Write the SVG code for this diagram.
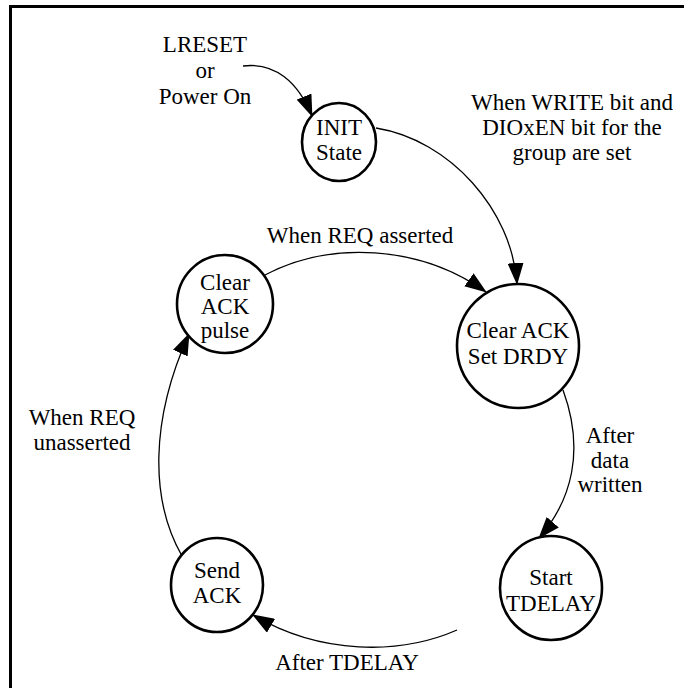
<svg xmlns="http://www.w3.org/2000/svg" width="686" height="688" viewBox="0 0 686 688" font-family="Liberation Serif, Times New Roman, serif">
<defs>
<marker id="ah" markerWidth="22" markerHeight="16" refX="21" refY="8" orient="auto" markerUnits="userSpaceOnUse">
<path d="M0,0 L22,8 L0,16 Z" fill="#000"/>
</marker>
<style>
.st{fill:#fff;stroke:#000;stroke-width:2.6}
text{font-size:23px;fill:#000;text-anchor:middle}
.c{fill:none;stroke:#000;stroke-width:1.3;marker-end:url(#ah)}
</style>
</defs>
<rect width="686" height="688" fill="#fff"/>
<path d="M10.5 688 V6.5 H684" fill="none" stroke="#000" stroke-width="3"/>
<g id="connectors">
<path class="c" d="M243 66 C275 62 298 82 312 116"/>
<path class="c" d="M376 128 C450 140 512 210 517 284"/>
<path class="c" d="M263 276 C330 240 420 245 486 292"/>
<path class="c" d="M563 390 C585 450 572 500 539 538"/>
<path class="c" d="M457 630 C400 655 320 655 253 615"/>
<path class="c" d="M182 556 C150 500 150 420 189 334"/>
</g>
<g id="labels" font-family="Liberation Serif, serif">
<text x="205" y="52">LRESET</text>
<text x="205" y="78">or</text>
<text x="205" y="104">Power On</text>
<text x="572" y="110">When WRITE bit and</text>
<text x="572" y="135">DIOxEN bit for the</text>
<text x="572" y="160">group are set</text>
<text x="360" y="243">When REQ asserted</text>
<text x="610" y="443">After</text>
<text x="610" y="468">data</text>
<text x="610" y="492">written</text>
<text x="347" y="670">After TDELAY</text>
<text x="82" y="425">When REQ</text>
<text x="82" y="450">unasserted</text>
</g>
<g id="init">
<ellipse class="st" cx="339" cy="142" rx="37" ry="39"/>
<text x="339" y="135">INIT</text>
<text x="339" y="160">State</text>
</g>
<g id="clear-ack-set-drdy">
<ellipse class="st" cx="518" cy="346" rx="61" ry="62"/>
<text x="518" y="338">Clear ACK</text>
<text x="518" y="364">Set DRDY</text>
</g>
<g id="clear-ack-pulse">
<ellipse class="st" cx="225" cy="304" rx="48" ry="49"/>
<text x="225" y="290">Clear</text>
<text x="225" y="314">ACK</text>
<text x="225" y="338">pulse</text>
</g>
<g id="start-tdelay">
<ellipse class="st" cx="551" cy="588" rx="51" ry="52"/>
<text x="551" y="585">Start</text>
<text x="551" y="611">TDELAY</text>
</g>
<g id="send-ack">
<ellipse class="st" cx="217" cy="585" rx="46" ry="47"/>
<text x="217" y="578">Send</text>
<text x="217" y="603">ACK</text>
</g>
</svg>
